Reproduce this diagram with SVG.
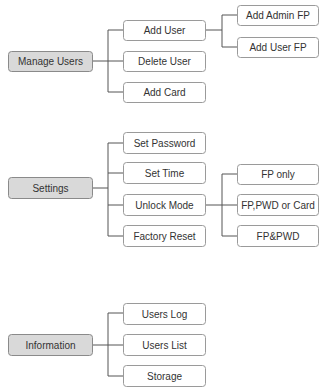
<svg xmlns="http://www.w3.org/2000/svg" width="321" height="389" viewBox="0 0 321 389">
<style>
.root rect{fill:#d9d9d9;stroke:#8a8a8a;stroke-width:1}
.node rect{fill:#fff;stroke:#9a9a9a;stroke-width:1}
text{font-family:"Liberation Sans",Arial,sans-serif;font-size:10px;fill:#333;text-anchor:middle;dominant-baseline:central}
#connectors path{fill:none;stroke:#555;stroke-width:1}
</style>
<rect width="321" height="389" fill="#fff"/>
<g id="connectors">
<path d="M92 61H108M108 30V92M108 30H123M108 61H123M108 92H123"/>
<path d="M205 30H222M222 15V47M222 15H237M222 47H237"/>
<path d="M92 188H108M108 143V236M108 143H123M108 173H123M108 205H123M108 236H123"/>
<path d="M205 205H222M222 174V236M222 174H237M222 205H237M222 236H237"/>
<path d="M92 345H108M108 313V376M108 313H123M108 345H123M108 376H123"/>
</g>
<g id="manage-users" class="root"><rect x="8.5" y="51.5" width="84" height="20" rx="3"/><text x="50.5" y="61.5">Manage Users</text></g>
<g id="add-user" class="node"><rect x="123.5" y="20.5" width="82" height="20" rx="3"/><text x="164.5" y="30.5">Add User</text></g>
<g id="delete-user" class="node"><rect x="123.5" y="51.5" width="82" height="20" rx="3"/><text x="164.5" y="61.5">Delete User</text></g>
<g id="add-card" class="node"><rect x="123.5" y="82.5" width="82" height="20" rx="3"/><text x="164.5" y="92.5">Add Card</text></g>
<g id="add-admin-fp" class="node"><rect x="237.5" y="5.5" width="81" height="20" rx="3"/><text x="278" y="15.5">Add Admin FP</text></g>
<g id="add-user-fp" class="node"><rect x="237.5" y="37.5" width="81" height="20" rx="3"/><text x="278" y="47.5">Add User FP</text></g>

<g id="settings" class="root"><rect x="8.5" y="177.5" width="84" height="21" rx="3"/><text x="50.5" y="188">Settings</text></g>
<g id="set-password" class="node"><rect x="123.5" y="132.5" width="82" height="21" rx="3"/><text x="164.5" y="143">Set Password</text></g>
<g id="set-time" class="node"><rect x="123.5" y="162.5" width="82" height="21" rx="3"/><text x="164.5" y="173">Set Time</text></g>
<g id="unlock-mode" class="node"><rect x="123.5" y="194.5" width="82" height="21" rx="3"/><text x="164.5" y="205">Unlock Mode</text></g>
<g id="factory-reset" class="node"><rect x="123.5" y="225.5" width="82" height="21" rx="3"/><text x="164.5" y="236">Factory Reset</text></g>
<g id="fp-only" class="node"><rect x="237.5" y="164.5" width="81" height="20" rx="3"/><text x="278" y="174.5">FP only</text></g>
<g id="fp-pwd-card" class="node"><rect x="237.5" y="194.5" width="81" height="21" rx="3"/><text x="278" y="205">FP,PWD or Card</text></g>
<g id="fp-and-pwd" class="node"><rect x="237.5" y="225.5" width="81" height="21" rx="3"/><text x="278" y="236">FP&amp;PWD</text></g>

<g id="information" class="root"><rect x="8.5" y="334.5" width="84" height="21" rx="3"/><text x="50.5" y="345">Information</text></g>
<g id="users-log" class="node"><rect x="123.5" y="303.5" width="82" height="21" rx="3"/><text x="164.5" y="314">Users Log</text></g>
<g id="users-list" class="node"><rect x="123.5" y="334.5" width="82" height="21" rx="3"/><text x="164.5" y="345">Users List</text></g>
<g id="storage" class="node"><rect x="123.5" y="365.5" width="82" height="21" rx="3"/><text x="164.5" y="376">Storage</text></g>
</svg>
